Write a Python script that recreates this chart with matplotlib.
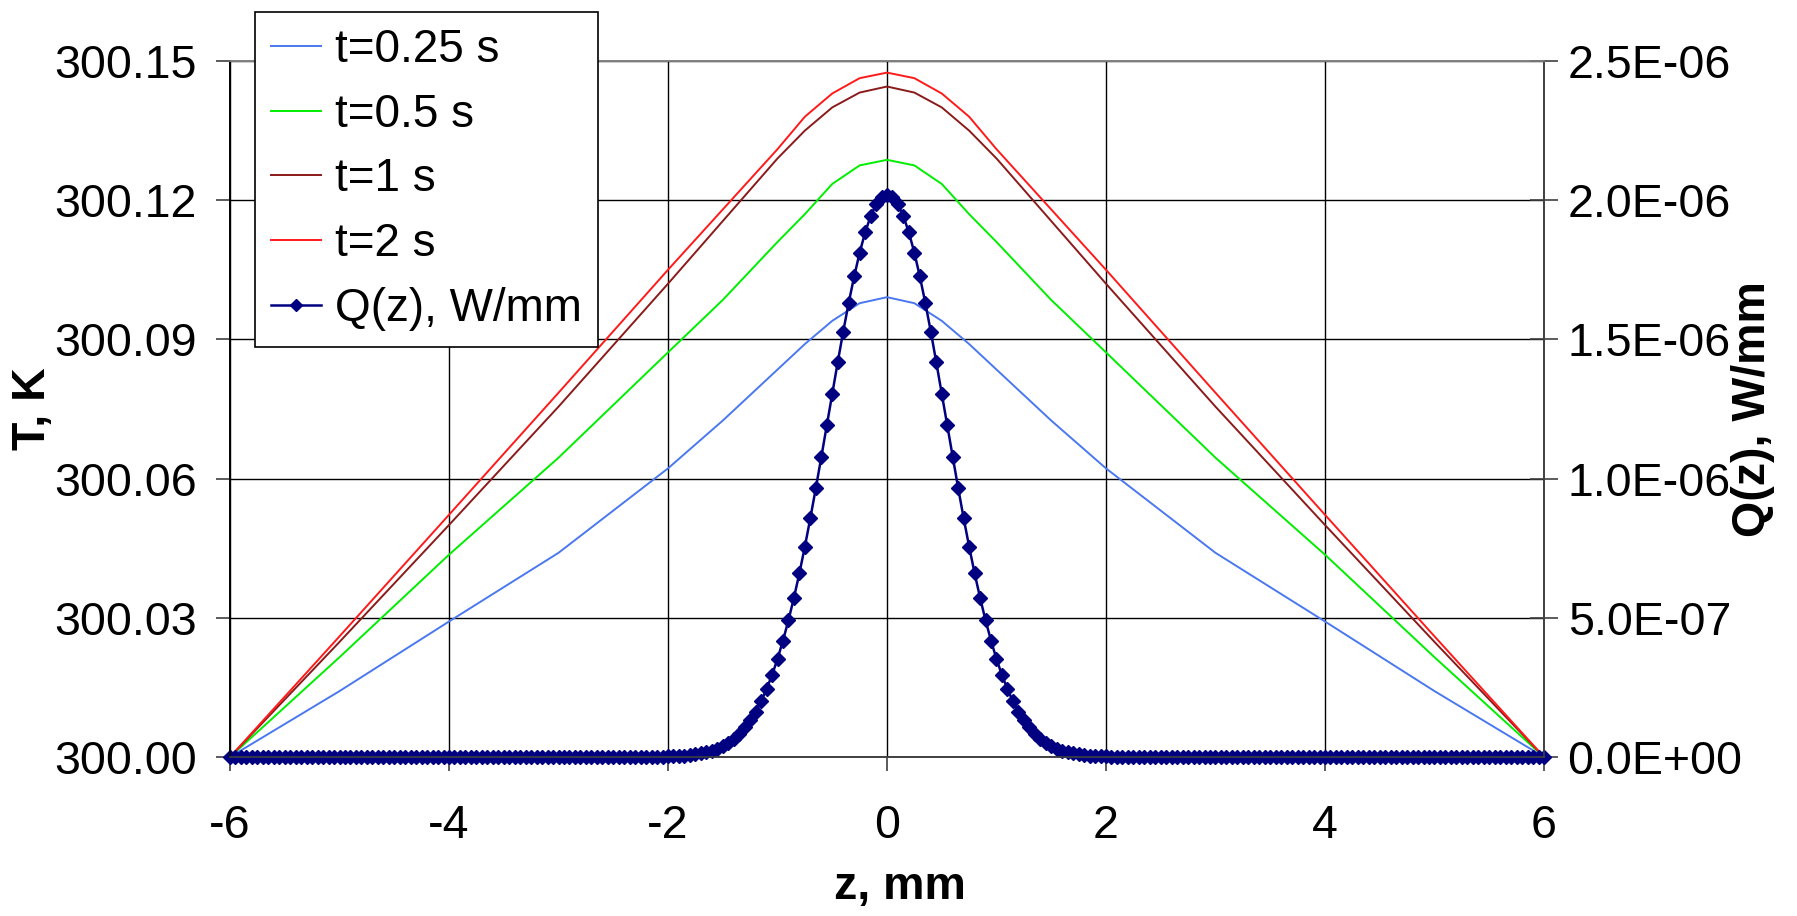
import numpy as np
import matplotlib
matplotlib.use("Agg")
import matplotlib.pyplot as plt
from matplotlib.ticker import FormatStrFormatter, MultipleLocator

plt.rcParams['font.family'] = ['Liberation Sans', 'DejaVu Sans']
plt.rcParams['axes.unicode_minus'] = False

# temperature profiles, T - 300 K
z_t = [-6, -5, -4, -3, -2, -1.5, -1, -0.75, -0.5, -0.25, 0,
       0.25, 0.5, 0.75, 1, 1.5, 2, 3, 4, 5, 6]
dT_025 = [0.0, 0.0142, 0.0292, 0.0440, 0.0622, 0.0725, 0.0835, 0.0890, 0.0940, 0.0978, 0.0991,
          0.0978, 0.0940, 0.0890, 0.0835, 0.0725, 0.0622, 0.0440, 0.0292, 0.0142, 0.0]
dT_05 = [0.0, 0.0215, 0.0436, 0.0645, 0.0872, 0.0985, 0.1110, 0.1170, 0.1235, 0.1275, 0.1287,
         0.1275, 0.1235, 0.1170, 0.1110, 0.0985, 0.0872, 0.0645, 0.0436, 0.0215, 0.0]
dT_1 = [0.0, 0.0248, 0.0500, 0.0755, 0.1020, 0.1155, 0.1290, 0.1350, 0.1400, 0.1432, 0.1445,
        0.1432, 0.1400, 0.1350, 0.1290, 0.1155, 0.1020, 0.0755, 0.0500, 0.0248, 0.0]
dT_2 = [0.0, 0.0260, 0.0522, 0.0785, 0.1050, 0.1180, 0.1310, 0.1380, 0.1430, 0.1463, 0.1475,
        0.1463, 0.1430, 0.1380, 0.1310, 0.1180, 0.1050, 0.0785, 0.0522, 0.0260, 0.0]

# heat source Q(z), 1e-6 W/mm, on a 0.05 mm grid for -2..2 (zero outside)
q_mid = [0.002, 0.003, 0.004, 0.005, 0.007, 0.010, 0.013, 0.017, 0.023, 0.030,
         0.040, 0.051, 0.066, 0.084, 0.106, 0.132, 0.163, 0.200, 0.244, 0.294,
         0.352, 0.418, 0.491, 0.572, 0.660, 0.756, 0.858, 0.966, 1.077, 1.191,
         1.305, 1.418, 1.528, 1.631, 1.726, 1.811, 1.884, 1.942, 1.985, 2.011,
         2.020,
         2.011, 1.985, 1.942, 1.884, 1.811, 1.726, 1.631, 1.528, 1.418, 1.305,
         1.191, 1.077, 0.966, 0.858, 0.756, 0.660, 0.572, 0.491, 0.418, 0.352,
         0.294, 0.244, 0.200, 0.163, 0.132, 0.106, 0.084, 0.066, 0.051, 0.040,
         0.030, 0.023, 0.017, 0.013, 0.010, 0.007, 0.005, 0.004, 0.003, 0.002]

z_q = np.round(np.arange(-120, 121) * 0.05, 2)
q = np.zeros(len(z_q))
q[80:161] = q_mid
q = q * 1e-6

T_base = 300.0
fs = 33.5

fig = plt.figure(figsize=(17.97, 9.16), dpi=100)
ax1 = fig.add_axes([0.128, 0.1736, 0.7312, 0.7598])
ax2 = ax1.twinx()

l1, = ax1.plot(z_t, T_base + np.array(dT_025), color="#4a78f0", lw=1.4, label="t=0.25 s")
l2, = ax1.plot(z_t, T_base + np.array(dT_05), color="#00ee00", lw=1.4, label="t=0.5 s")
l3, = ax1.plot(z_t, T_base + np.array(dT_1), color="#8b1a1a", lw=1.4, label="t=1 s")
l4, = ax1.plot(z_t, T_base + np.array(dT_2), color="#ff1a1a", lw=1.4, label="t=2 s")
l5, = ax2.plot(z_q, q, color="#000080", lw=1.8, marker="D", markersize=7.5,
               markeredgecolor="#000080", clip_on=False, label="Q(z), W/mm")

ax1.set_xlim(-6, 6)
ax1.set_ylim(300.0, 300.15)
ax2.set_ylim(0, 2.5e-6)
ax1.xaxis.set_major_locator(MultipleLocator(2))
ax1.yaxis.set_major_locator(MultipleLocator(0.03))
ax2.yaxis.set_major_locator(MultipleLocator(0.5e-6))
ax1.yaxis.set_major_formatter(FormatStrFormatter("%.2f"))
ax2.yaxis.set_major_formatter(FormatStrFormatter("%.1E"))

ax1.grid(True, color="black", lw=1.0)
ax1.set_axisbelow(True)

for ax in (ax1, ax2):
    ax.spines["top"].set_color("#808080")
    ax.spines["right"].set_color("#404040")
    ax.spines["left"].set_color("black")
    ax.spines["bottom"].set_color("#404040")
    for s in ax.spines.values():
        s.set_linewidth(1.2)

ax1.tick_params(axis="both", labelsize=fs, direction="out", length=10, width=1.2, color="#404040")
ax1.tick_params(axis="y", pad=14)
ax1.tick_params(axis="x", pad=24)
ax2.tick_params(axis="y", labelsize=fs, direction="inout", length=20, width=1.2, color="#404040", pad=7)

ax1.set_xlabel("z, mm", fontsize=fs, fontweight="bold")
ax1.set_ylabel("T, K", fontsize=fs, fontweight="bold")
ax2.set_ylabel("Q(z), W/mm", fontsize=fs, fontweight="bold")
ax1.xaxis.set_label_coords(0.51, -0.155)
ax1.yaxis.set_label_coords(-0.133, 0.5)
ax2.yaxis.set_label_coords(1.142, 0.5)

leg = ax2.legend(handles=[l1, l2, l3, l4, l5], loc="upper left",
                 bbox_to_anchor=(255 / 1797, 1 - 12 / 916), bbox_transform=fig.transFigure,
                 prop={"size": 33}, frameon=True, fancybox=False, shadow=False,
                 borderaxespad=0, borderpad=0.35, labelspacing=0.45,
                 handlelength=1.1, handletextpad=0.3, markerscale=0.85)
leg.get_frame().set_edgecolor("black")
leg.get_frame().set_linewidth(1.2)
leg.get_frame().set_alpha(1)

fig.savefig("out.png", dpi=100)
